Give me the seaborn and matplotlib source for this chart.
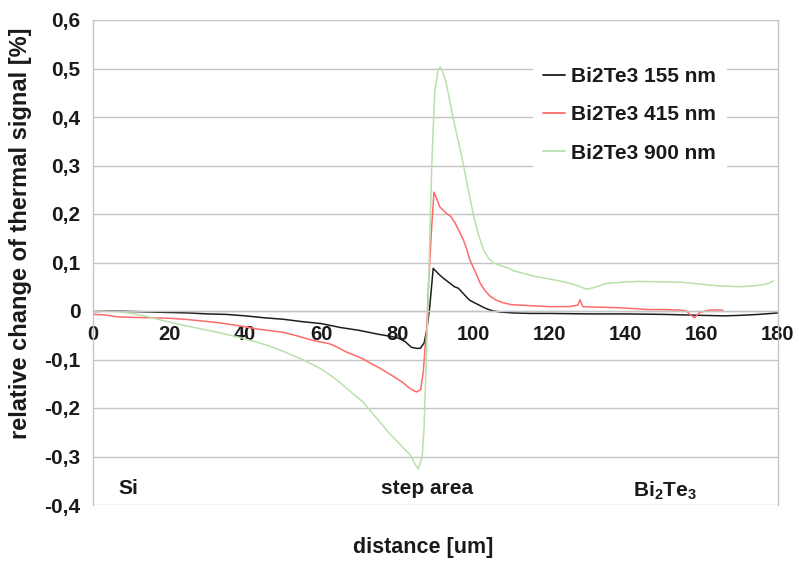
import numpy as np
import pandas as pd
import matplotlib
matplotlib.use("Agg")
import matplotlib.pyplot as plt
import seaborn as sns

# ---- data ----
series_names = ["Bi2Te3 155 nm", "Bi2Te3 415 nm", "Bi2Te3 900 nm"]

x_155 = [0, 5, 10, 15, 20, 25, 30, 35, 40, 45, 50, 55, 60, 65, 70, 75, 78, 80, 82, 83.7,
         85, 86, 87, 87.7, 88.5, 89.4, 90, 91, 92, 93, 94, 95, 96, 97.3, 98, 99, 100,
         101, 102, 103, 104, 105.2, 107, 110.4, 115, 120, 130, 140, 150, 160, 166, 170,
         175, 180]
y_155 = [-0.001, 0.000, -0.001, -0.002, -0.003, -0.004, -0.006, -0.007, -0.010, -0.014,
         -0.017, -0.022, -0.026, -0.034, -0.040, -0.048, -0.052, -0.055, -0.063, -0.075,
         -0.077, -0.077, -0.066, -0.040, 0.010, 0.088, 0.083, 0.075, 0.068, 0.062, 0.056,
         0.050, 0.047, 0.036, 0.030, 0.022, 0.018, 0.014, 0.010, 0.006, 0.003, 0.000,
         -0.002, -0.004, -0.005, -0.005, -0.006, -0.006, -0.007, -0.009, -0.010, -0.009,
         -0.007, -0.004]

x_415 = [0, 3, 6.5, 10, 15, 20, 24, 28, 32.8, 38, 43, 47, 50, 53.5, 57.9, 60, 62.3, 64.3,
         66.7, 69, 71, 73, 75.4, 77.5, 79.8, 81.5, 83.3, 85, 86.1, 86.8, 87.3, 87.7, 88.1,
         89.0, 89.6, 90.3, 91.1, 92.9, 94, 95.1, 96.2, 97.3, 98.2, 99, 100.5, 101.7, 103,
         104.3, 106, 107.8, 110, 115, 120, 125, 127.4, 128.0, 128.7, 132, 137.5, 142, 146,
         150, 154.2, 156, 156.8, 158.1, 159.4, 162, 165.5]
y_415 = [-0.007, -0.008, -0.012, -0.013, -0.014, -0.015, -0.017, -0.020, -0.024, -0.030,
         -0.037, -0.041, -0.044, -0.051, -0.061, -0.064, -0.068, -0.075, -0.085, -0.092,
         -0.099, -0.108, -0.118, -0.128, -0.139, -0.148, -0.160, -0.167, -0.162, -0.125,
         -0.070, -0.040, 0.044, 0.174, 0.245, 0.232, 0.215, 0.201, 0.195, 0.182, 0.165,
         0.147, 0.128, 0.106, 0.080, 0.058, 0.042, 0.031, 0.022, 0.017, 0.013, 0.011,
         0.009, 0.009, 0.012, 0.023, 0.009, 0.008, 0.007, 0.005, 0.003, 0.003, 0.002,
         0.000, -0.007, -0.014, -0.003, 0.002, 0.002]

x_900 = [0, 6.5, 10, 13.5, 17, 22.3, 26.6, 32.8, 36, 38.9, 42, 45.9, 49, 52, 55, 57.9, 60,
         62.3, 64.5, 66.7, 69, 71, 73, 75.4, 77.5, 79.8, 81.5, 83.3, 84.6, 85.5, 86.5, 87.0,
         87.5, 88.0, 88.5, 89.0, 89.8, 90.7, 91.3, 92.0, 92.9, 94.6, 96, 97.3, 98.6, 99.9,
         101.2, 102.6, 104, 105.2, 107.8, 109.6, 110.4, 112, 115.7, 120, 124.4, 127, 129.7,
         131.5, 135, 140, 143.7, 150, 155.1, 160, 163.9, 170, 175.3, 177.5, 178.8]
y_900 = [0.000, -0.001, -0.005, -0.010, -0.017, -0.027, -0.034, -0.044, -0.050, -0.055,
         -0.062, -0.071, -0.080, -0.090, -0.100, -0.111, -0.120, -0.132, -0.145, -0.160,
         -0.175, -0.188, -0.207, -0.229, -0.249, -0.268, -0.282, -0.296, -0.315, -0.326,
         -0.300, -0.240, -0.120, 0.000, 0.150, 0.297, 0.453, 0.498, 0.503, 0.490, 0.467,
         0.399, 0.350, 0.303, 0.250, 0.201, 0.160, 0.126, 0.108, 0.099, 0.092, 0.087,
         0.083, 0.080, 0.072, 0.066, 0.059, 0.053, 0.045, 0.048, 0.057, 0.060, 0.061,
         0.060, 0.059, 0.055, 0.052, 0.050, 0.053, 0.057, 0.062]

x_ticks = [0, 20, 40, 60, 80, 100, 120, 140, 160, 180]
y_ticks = [-0.4, -0.3, -0.2, -0.1, 0.0, 0.1, 0.2, 0.3, 0.4, 0.5, 0.6]
region_labels = ["Si", "step area", r"$\mathbf{Bi_2Te_3}$"]
region_x = [6.6, 87.8, 142.0]

colors = ["#1e1e1e", "#ff6a6a", "#b9e0ad"]

df = pd.concat([
    pd.DataFrame({"x": x_155, "y": y_155, "series": series_names[0]}),
    pd.DataFrame({"x": x_415, "y": y_415, "series": series_names[1]}),
    pd.DataFrame({"x": x_900, "y": y_900, "series": series_names[2]}),
], ignore_index=True)

sns.set_theme(style="white")
plt.rcParams["font.family"] = ["Liberation Sans", "DejaVu Sans"]
plt.rcParams["font.weight"] = "bold"
plt.rcParams["mathtext.fontset"] = "custom"
plt.rcParams["mathtext.rm"] = "Liberation Sans"
plt.rcParams["mathtext.bf"] = "Liberation Sans:bold"

txt = "#1a1a1a"
gridc = "#c4c4c4"

fig = plt.figure(figsize=(7.99, 5.65), dpi=100)
ax = fig.add_axes([93 / 799, 1 - 505 / 565, 685 / 799, 485 / 565])

sns.lineplot(data=df, x="x", y="y", hue="series", palette=colors, sort=False,
             estimator=None, linewidth=1.1, ax=ax, legend=True)

ax.set_xlim(0, 180)
ax.set_ylim(-0.4, 0.6)
ax.set_xticks(x_ticks)
ax.set_xticklabels([str(v) for v in x_ticks])
ax.set_yticks(y_ticks)
def fmt(v):
    if abs(v) < 1e-9:
        return "0"
    return f"{v:.1f}".replace(".", ",")
ax.set_yticklabels([fmt(v) for v in y_ticks])

ax.yaxis.grid(True, color=gridc, linewidth=1)
ax.xaxis.grid(False)
ax.set_axisbelow(True)

for s in ["left", "right"]:
    ax.spines[s].set_color(gridc)
    ax.spines[s].set_linewidth(1)
ax.spines["top"].set_visible(False)
ax.spines["bottom"].set_position(("data", 0))
ax.spines["bottom"].set_color(gridc)
ax.spines["bottom"].set_linewidth(1)

ax.tick_params(axis="x", direction="out", length=5, width=1, color=gridc,
               labelsize=14.5, labelcolor=txt, pad=5)
ax.tick_params(axis="y", direction="out", length=5, width=1, color=gridc,
               labelsize=15, labelcolor=txt, pad=4)
for lab in ax.get_xticklabels() + ax.get_yticklabels():
    lab.set_fontweight("bold")

ax.set_xlabel("")
ax.set_ylabel("")
fig.text(21 / 799, 1 - 233 / 565, "relative change of thermal signal [%]", rotation=90,
         ha="center", va="center", fontsize=17, fontweight="bold", color=txt)
fig.text(423 / 799, 1 - 548 / 565, "distance [um]", ha="center", va="center",
         fontsize=15.5, fontweight="bold", color=txt)

ax.text(region_x[0], -0.365, region_labels[0], ha="left", va="center", fontsize=15,
        fontweight="bold", color=txt)
ax.text(region_x[1], -0.365, region_labels[1], ha="center", va="center", fontsize=15,
        fontweight="bold", color=txt)
ax.text(region_x[2], -0.37, region_labels[2], ha="left", va="center", fontsize=15,
        fontweight="bold", color=txt)

handles, labels = ax.get_legend_handles_labels()
leg = ax.legend(handles, labels, loc="upper left", bbox_to_anchor=(0.642, 0.925),
                frameon=True, fontsize=15, handlelength=1.05, handletextpad=0.3,
                labelspacing=0.93, borderpad=0.5, borderaxespad=0)
leg.get_frame().set_facecolor("white")
leg.get_frame().set_edgecolor("none")
leg.get_frame().set_alpha(1)
leg.get_frame().set_boxstyle("square", pad=0)
for t in leg.get_texts():
    t.set_fontweight("bold")
    t.set_color(txt)
for l in leg.get_lines():
    l.set_linewidth(1.3)

fig.savefig("out.png", dpi=100)
